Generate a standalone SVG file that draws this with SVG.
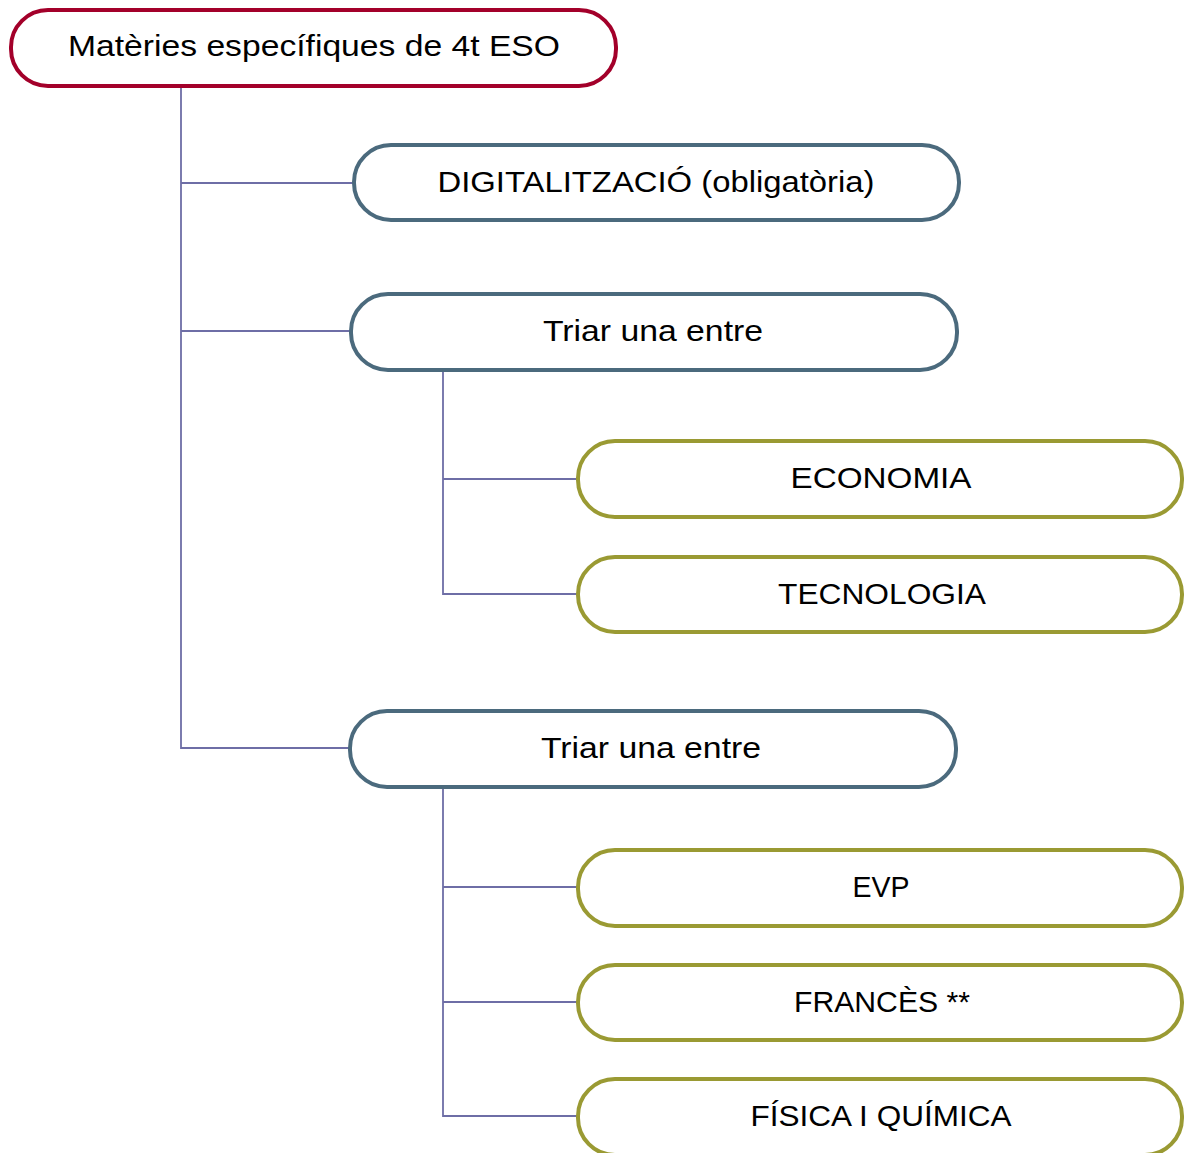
<svg xmlns="http://www.w3.org/2000/svg" width="1185" height="1153" viewBox="0 0 1185 1153">
<style>
.n rect{fill:#fff;stroke-width:4}
.r rect{stroke:#A3002A}
.b rect{stroke:#4B6A7D}
.g rect{stroke:#9A9A33}
text{font-family:"Liberation Sans",Arial,sans-serif;font-size:29px;fill:#000;text-anchor:middle}
#connectors path{fill:none;stroke:#6E6EA6;stroke-width:1.8}
</style>
<rect width="1185" height="1153" fill="#fff"/>
<g id="connectors">
<path d="M181 86V748H349M181 183H353M181 331H350"/>
<path d="M443 370V594H577M443 479H577"/>
<path d="M443 787V1116H577M443 887H577M443 1002H577"/>
</g>
<g id="root" class="n r"><rect x="11" y="10" width="605" height="76" rx="37"/><text x="314" y="56" textLength="492" lengthAdjust="spacingAndGlyphs">Matèries específiques de 4t ESO</text></g>
<g id="digital" class="n b"><rect x="354" y="145" width="605" height="75" rx="37"/><text x="656" y="192" textLength="437" lengthAdjust="spacingAndGlyphs">DIGITALITZACIÓ (obligatòria)</text></g>
<g id="triar1" class="n b"><rect x="351" y="294" width="606" height="76" rx="37"/><text x="653" y="341" textLength="220" lengthAdjust="spacingAndGlyphs">Triar una entre</text></g>
<g id="economia" class="n g"><rect x="578" y="441" width="604" height="76" rx="37"/><text x="881" y="488" textLength="181" lengthAdjust="spacingAndGlyphs">ECONOMIA</text></g>
<g id="tecnologia" class="n g"><rect x="578" y="557" width="604" height="75" rx="37"/><text x="882" y="604" textLength="208" lengthAdjust="spacingAndGlyphs">TECNOLOGIA</text></g>
<g id="triar2" class="n b"><rect x="350" y="711" width="606" height="76" rx="37"/><text x="651" y="758" textLength="220" lengthAdjust="spacingAndGlyphs">Triar una entre</text></g>
<g id="evp" class="n g"><rect x="578" y="850" width="604" height="76" rx="37"/><text x="881" y="897" textLength="57" lengthAdjust="spacingAndGlyphs">EVP</text></g>
<g id="frances" class="n g"><rect x="578" y="965" width="604" height="75" rx="37"/><text x="882" y="1012" textLength="176" lengthAdjust="spacingAndGlyphs">FRANCÈS **</text></g>
<g id="fisica" class="n g"><rect x="578" y="1079" width="604" height="76" rx="37"/><text x="881" y="1126" textLength="261" lengthAdjust="spacingAndGlyphs">FÍSICA I QUÍMICA</text></g>
</svg>
